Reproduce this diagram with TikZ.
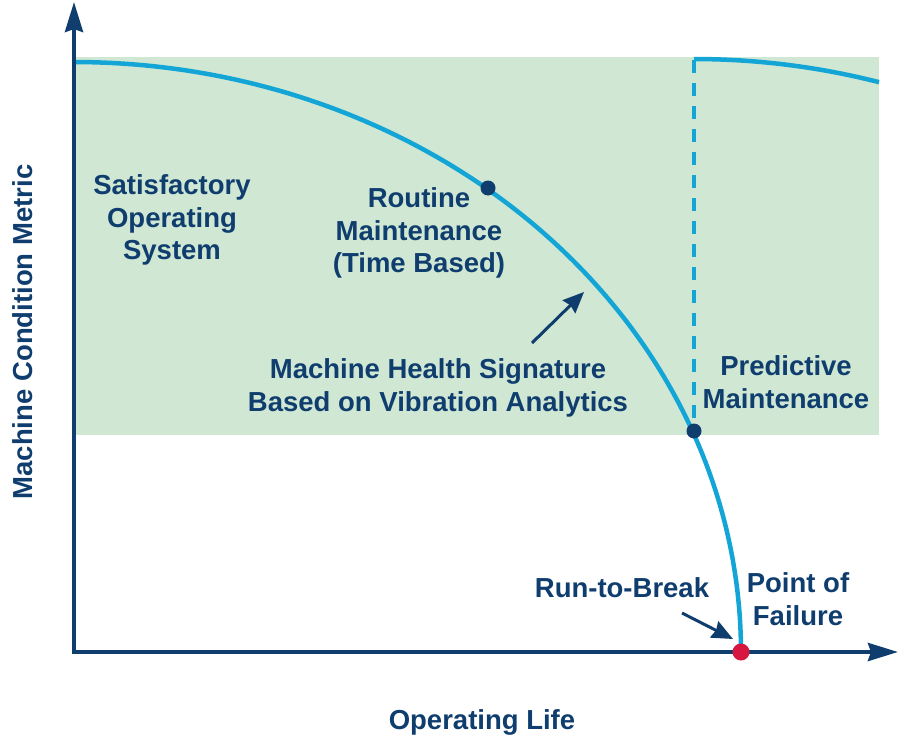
\documentclass[tikz,border=0pt]{standalone}
\usepackage{fontspec}
\setmainfont{Liberation Sans}
\usetikzlibrary{arrows.meta}
\definecolor{navy}{HTML}{0F3D6E}
\definecolor{cyanline}{HTML}{13A5D6}
\definecolor{zone}{HTML}{CFE7D3}
\definecolor{fail}{HTML}{D7173F}
\tikzset{
  lbl/.style={text=navy, font=\bfseries\fontsize{27.5}{32.5}\selectfont, align=center, inner sep=0pt},
  axis/.style={draw=navy, line width=4pt, -{Stealth[length=30pt,width=18pt,inset=3pt]}},
  curve/.style={draw=cyanline, line width=4.5pt},
  ptr/.style={draw=navy, line width=3pt, -{Stealth[length=21pt,width=18pt,inset=2pt]}},
  dotnode/.style={circle, fill=navy, inner sep=0pt, minimum size=15pt},
}
\begin{document}
\begin{tikzpicture}[x=1pt,y=-1pt]
\useasboundingbox (0,0) rectangle (900,739);
% green zone
\fill[zone] (74,57) rectangle (879,435);
% dashed separator
\draw[cyanline, line width=4pt, dash pattern=on 13pt off 10pt] (694,60) -- (694,418);
% main curve
\draw[curve] plot[domain=90:0, samples=120] ({74+667*cos(\x)},{652-590*sin(\x)});
% restart curve
\draw[curve] plot[domain=90:73.9, samples=40] ({694+667*cos(\x)},{649-590*sin(\x)});
% axes
\coordinate (O) at (74,652);
\coordinate (ytip) at (74,2);
\coordinate (xtip) at (898,652);
\draw[axis] ([yshift=2pt]O) -- (ytip);
\draw[axis] ([xshift=-2pt]O) -- (xtip);
% dots
\node[dotnode] (d1) at (488,188) {};
\node[dotnode] (d2) at (694,431) {};
\node[circle, fill=fail, inner sep=0pt, minimum size=17pt] (pf) at (741,652) {};
% labels
\node[lbl] (sat) at (172,220) {Satisfactory\\Operating\\System};
\node[lbl] (rout) at (419,233) {Routine\\Maintenance\\(Time Based)};
\node[lbl] (mhs) at (438,388) {Machine Health Signature\\Based on Vibration Analytics};
\node[lbl] (pred) at (786,382) {Predictive\\Maintenance};
\node[lbl] (rtb) at (622,588) {Run-to-Break};
\node[lbl] (pof) at (798,599) {Point of\\Failure};
\node[lbl] (ol) at (482,722) {Operating Life};
\node[lbl, rotate=90] (mcm) at (23,332) {Machine Condition Metric};
% pointers
\coordinate (a1s) at (532,343);
\coordinate (a1e) at (584,292);
\coordinate (a2s) at (682,613);
\coordinate (a2e) at (733,639);
\draw[ptr] (a1s) -- (a1e);
\draw[ptr] (a2s) -- (a2e);
\end{tikzpicture}
\end{document}
